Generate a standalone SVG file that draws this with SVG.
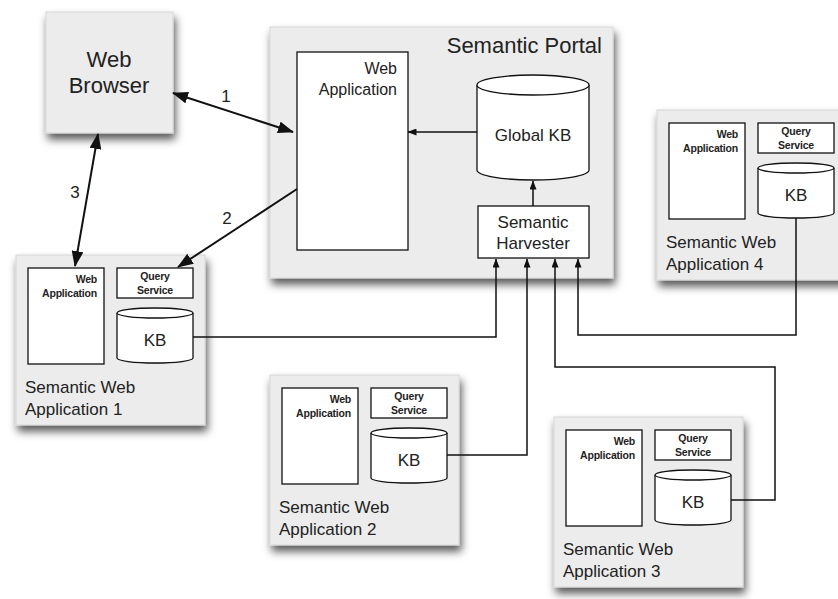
<svg xmlns="http://www.w3.org/2000/svg" width="838" height="599" viewBox="0 0 838 599">
<defs>
<filter id="sh" x="-10%" y="-10%" width="125%" height="130%">
<feDropShadow dx="2" dy="6" stdDeviation="4" flood-color="#000" flood-opacity="0.65"/>
</filter>
<marker id="big" viewBox="0 0 16 12" markerWidth="16" markerHeight="12" refX="15" refY="6" orient="auto-start-reverse" markerUnits="userSpaceOnUse">
<path d="M0,0 L16,6 L0,12 z" fill="#111"/>
</marker>
<marker id="sm" viewBox="0 0 9 7" markerWidth="9" markerHeight="7" refX="8.5" refY="3.5" orient="auto" markerUnits="userSpaceOnUse">
<path d="M0,0 L9,3.5 L0,7 z" fill="#111"/>
</marker>
<g id="app">
<rect class="panel" x="0" y="0" width="189" height="170" filter="url(#sh)"/>
<rect class="inner" x="12" y="13" width="76" height="96"/>
<text class="tiny" x="81" y="28" text-anchor="end">Web</text>
<text class="tiny" x="81" y="42" text-anchor="end">Application</text>
<rect class="inner" x="101" y="13" width="76" height="30"/>
<text class="tiny" x="139" y="25" text-anchor="middle">Query</text>
<text class="tiny" x="139" y="39" text-anchor="middle">Service</text>
<path class="inner" d="M101,58 V103 A38,5 0 0 0 177,103 V58"/>
<ellipse class="inner" cx="139" cy="58" rx="38" ry="5"/>
<text class="mid" x="139" y="91" text-anchor="middle">KB</text>
<text class="mid" x="9" y="138">Semantic Web</text>
</g>
</defs>
<style>
text { font-family: "Liberation Sans", Arial, sans-serif; fill: #222; }
.panel { fill: #ececec; stroke: #d6d6d6; stroke-width: 1; }
.inner { fill: #fff; stroke: #111; stroke-width: 1.3; }
.tiny { font-size: 10.5px; font-weight: 600; letter-spacing: -0.2px; }
.mid { font-size: 17px; }
.lab { font-size: 16px; }
.big { font-size: 22px; }
.num { font-size: 17px; }
.conn { fill: none; stroke: #111; stroke-width: 1.5; }
.arr { fill: none; stroke: #111; stroke-width: 2; }
</style>

<g id="web-browser">
<rect class="panel" x="46" y="12" width="127" height="121" filter="url(#sh)"/>
<text class="big" x="109" y="67" text-anchor="middle">Web</text>
<text class="big" x="109" y="93" text-anchor="middle">Browser</text>
</g>

<g id="semantic-portal">
<rect class="panel" x="270" y="27" width="343" height="251" filter="url(#sh)"/>
<text class="big" x="602" y="53" text-anchor="end">Semantic Portal</text>
<g id="portal-web-application">
<rect class="inner" x="297" y="52" width="111" height="198"/>
<text class="lab" x="397" y="74" text-anchor="end">Web</text>
<text class="lab" x="397" y="95" text-anchor="end">Application</text>
</g>
<g id="global-kb">
<path class="inner" d="M477,85 V170 A56,10 0 0 0 589,170 V85"/>
<ellipse class="inner" cx="533" cy="85" rx="56" ry="10"/>
<text class="mid" x="533" y="141" text-anchor="middle">Global KB</text>
</g>
<g id="semantic-harvester">
<rect class="inner" x="478" y="206" width="111" height="52"/>
<text class="mid" x="533" y="228" text-anchor="middle">Semantic</text>
<text class="mid" x="533" y="249" text-anchor="middle">Harvester</text>
</g>
</g>

<g id="app1" transform="translate(16,255)">
<use href="#app"/>
<text class="mid" x="9" y="160">Application 1</text>
</g>
<g id="app2" transform="translate(270,375)">
<use href="#app"/>
<text class="mid" x="9" y="160">Application 2</text>
</g>
<g id="app3" transform="translate(554,417)">
<use href="#app"/>
<text class="mid" x="9" y="160">Application 3</text>
</g>
<g id="app4" transform="translate(657,110)">
<use href="#app"/>
<text class="mid" x="9" y="160">Application 4</text>
</g>

<g id="connectors">
<line class="arr" x1="173" y1="93" x2="293" y2="132" marker-start="url(#big)" marker-end="url(#big)"/>
<line class="arr" x1="98" y1="134" x2="75" y2="266" marker-start="url(#big)" marker-end="url(#big)"/>
<line class="arr" x1="297" y1="189" x2="178" y2="267" marker-end="url(#big)"/>
<line class="conn" x1="477" y1="132" x2="408" y2="132" marker-end="url(#sm)"/>
<line class="conn" x1="533" y1="206" x2="533" y2="181" marker-end="url(#sm)"/>
<polyline class="conn" points="193,337 496,337 496,259" marker-end="url(#sm)"/>
<polyline class="conn" points="447,455 527,455 527,259" marker-end="url(#sm)"/>
<polyline class="conn" points="731,500 775,500 775,367 555,367 555,259" marker-end="url(#sm)"/>
<polyline class="conn" points="796,218 796,335 578,335 578,259" marker-end="url(#sm)"/>
<text class="num" x="226" y="102" text-anchor="middle">1</text>
<text class="num" x="227" y="224" text-anchor="middle">2</text>
<text class="num" x="75" y="198" text-anchor="middle">3</text>
</g>
</svg>
